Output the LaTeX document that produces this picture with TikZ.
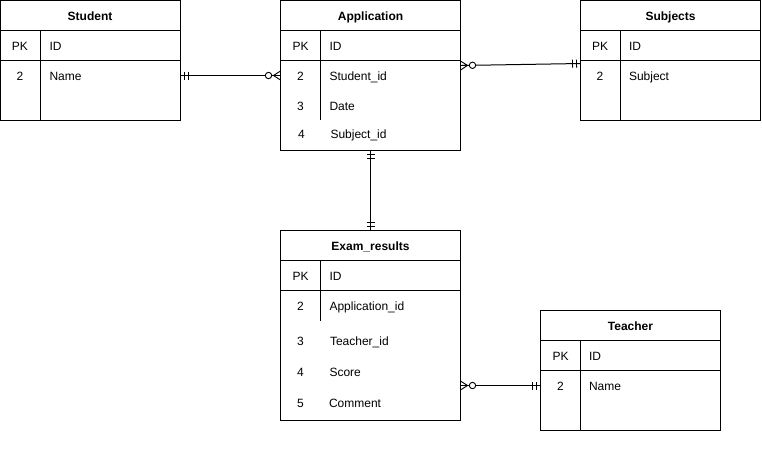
\documentclass[tikz,border=0pt]{standalone}
\usepackage{fontspec}
\setmainfont{Liberation Sans}
\begin{document}
\begin{tikzpicture}[x=1pt,y=-1pt,line width=1pt,
  tbl/.style={draw, minimum width=180pt, inner sep=0pt, outer sep=0pt},
  fld/.style={anchor=base west, inner sep=0pt},
  num/.style={anchor=base, inner sep=0pt},
  hdr/.style={anchor=base, inner sep=0pt, font=\bfseries},
  rel/.style={draw, line width=1pt},
  mone/.pic={\draw[line width=0.9pt] (4,-4)--(4,4) (8,-4)--(8,4);},
  zmany/.pic={\draw[line width=0.9pt] (0,-4.5)--(7,0)--(0,4.5) (0,0)--(7,0);
              \draw[line width=0.9pt,fill=white] (12,0) circle (3.2pt);}
]
\fontsize{12}{14}\selectfont
\useasboundingbox (0,0) rectangle (762,451);
\newcommand{\ertable}[5]{%
  \node[tbl, minimum height=#4pt, anchor=north west] (#1) at (#2,#3) {};
  \draw ([yshift=-30pt]#1.north west) -- ([yshift=-30pt]#1.north east);
  \draw ([yshift=-60pt]#1.north west) -- ([yshift=-60pt]#1.north east);
  \draw ([shift={(40pt,-30pt)}]#1.north west) -- ([shift={(40pt,-#5pt)}]#1.north west);
}
% tables
\ertable{student}{0.5}{0.5}{119.5}{119.5}
\ertable{app}{280.5}{0.5}{149.5}{119.5}
\ertable{subj}{580.5}{0.5}{119.5}{119.5}
\ertable{exam}{280.5}{230.5}{189.5}{90}
\ertable{teach}{540.5}{310.5}{119.5}{119.5}
% Student
\node[hdr] (stuH) at (90,20) {Student};
\node[num] (stuPK) at (20,50) {PK};
\node[fld] (stuID) at (49,50) {ID};
\node[num] (stu2) at (20,80) {2};
\node[fld] (stuName) at (49,80) {Name};
% Application
\node[hdr] (appH) at (370.5,20) {Application};
\node[num] (appPK) at (300.5,50) {PK};
\node[fld] (appID) at (329,50) {ID};
\node[num] (app2) at (300.5,80) {2};
\node[fld] (appSid) at (329,80) {Student\_id};
\node[num] (app3) at (300.5,110) {3};
\node[fld] (appDate) at (329,110) {Date};
\node[num] (app4) at (301.5,138) {4};
\node[fld] (appSub) at (330,138) {Subject\_id};
% Subjects
\node[hdr] (subH) at (670.5,20) {Subjects};
\node[num] (subPK) at (600,50) {PK};
\node[fld] (subID) at (628.5,50) {ID};
\node[num] (sub2) at (600,80) {2};
\node[fld] (subS) at (628.5,80) {Subject};
% Exam_results
\node[hdr] (exH) at (370.5,250) {Exam\_results};
\node[num] (exPK) at (300.5,280) {PK};
\node[fld] (exID) at (329,280) {ID};
\node[num] (ex2) at (300.5,310) {2};
\node[fld] (exA) at (329,310) {Application\_id};
\node[num] (ex3) at (300.5,345) {3};
\node[fld] (exT) at (329.5,345) {Teacher\_id};
\node[num] (ex4) at (300.5,376) {4};
\node[fld] (exS) at (329,376) {Score};
\node[num] (ex5) at (300.5,407) {5};
\node[fld] (exC) at (328.5,407) {Comment};
% Teacher
\node[hdr] (tH) at (630.5,330) {Teacher};
\node[num] (tPK) at (560.5,360) {PK};
\node[fld] (tID) at (588.5,360) {ID};
\node[num] (t2) at (560.5,390) {2};
\node[fld] (tName) at (588.5,390) {Name};
% connector levels
\coordinate (ySA) at (0,75.5);
\coordinate (yAS1) at (0,65.5);
\coordinate (yAS2) at (0,63.5);
\coordinate (xAE) at (370.5,0);
\coordinate (yET) at (0,385.5);
% Student -- Application
\draw[rel] (student.east |- ySA) -- (app.west |- ySA);
\pic at (student.east |- ySA) {mone};
\pic[rotate=180] at (app.west |- ySA) {zmany};
% Application -- Subjects
\draw[rel] (app.east |- yAS1) -- (subj.west |- yAS2);
\pic[rotate=1] at (app.east |- yAS1) {zmany};
\pic[rotate=181] at (subj.west |- yAS2) {mone};
% Application -- Exam_results
\draw[rel] (app.south -| xAE) -- (exam.north -| xAE);
\pic[rotate=-90] at (app.south -| xAE) {mone};
\pic[rotate=90] at (exam.north -| xAE) {mone};
% Exam_results -- Teacher
\draw[rel] (exam.east |- yET) -- (teach.west |- yET);
\pic at (exam.east |- yET) {zmany};
\pic[rotate=180] at (teach.west |- yET) {mone};
\end{tikzpicture}
\end{document}
